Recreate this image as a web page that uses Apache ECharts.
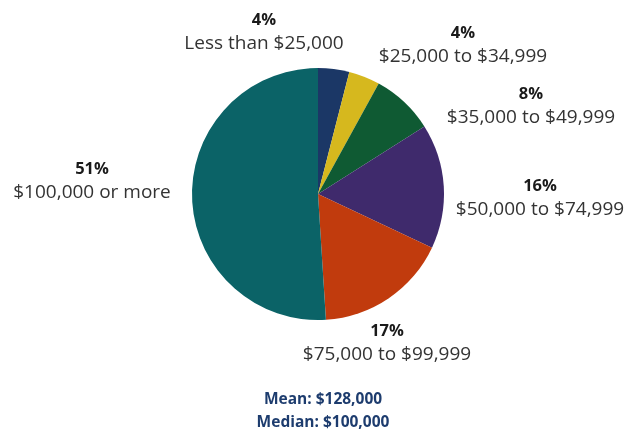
<!DOCTYPE html>
<html><head><meta charset="utf-8">
<script src="https://cdn.jsdelivr.net/npm/echarts@6/dist/echarts.min.js"></script>
<style>html,body{margin:0;padding:0;background:#fff}#c{width:630px;height:436px}</style>
</head><body><div id="c"></div>
<script>
var categories = ["Less than $25,000","$25,000 to $34,999","$35,000 to $49,999","$50,000 to $74,999","$75,000 to $99,999","$100,000 or more"];
var shares = [4,4,8,16,17,51];
var colors = ["#1b3766","#d6b81e","#0f5a33","#3f2a6c","#c13b0d","#0b6367"];
var summaryLines = ["Mean: $128,000","Median: $100,000"];

var labelPos = [[264,32],[463,45],[531,106],[540,198],[387,343],[92,181]];
var chart = echarts.init(document.getElementById('c'));
chart.setOption({
  animation:false,
  title:{text:summaryLines.join('\n'),left:318,top:383,textAlign:'center',
    textStyle:{fontFamily:'Open Sans',fontSize:15.5,fontWeight:'bold',color:'#1d3c6e',lineHeight:23}},
  series:[{
    type:'pie',center:[318,194],radius:126,startAngle:90,clockwise:true,
    data:categories.map(function(c,i){return {name:c,value:shares[i],itemStyle:{color:colors[i]}};}),
    label:{show:true,position:'outside',overflow:'none',alignTo:'none',
      formatter:function(p){return '{p|'+p.value+'%}\n{n|'+p.name+'}';},
      rich:{p:{fontFamily:'Open Sans',fontSize:16.5,fontWeight:'bold',color:'#1a1a1a',lineHeight:23,align:'center'},
            n:{fontFamily:'Open Sans',fontSize:19,color:'#333',lineHeight:23,align:'center'}}},
    labelLine:{show:false},
    labelLayout:function(p){var q=labelPos[p.dataIndex];return {x:q[0],y:q[1],align:'center',verticalAlign:'middle'};},
    emphasis:{disabled:true}
  }]
});
</script></body></html>
